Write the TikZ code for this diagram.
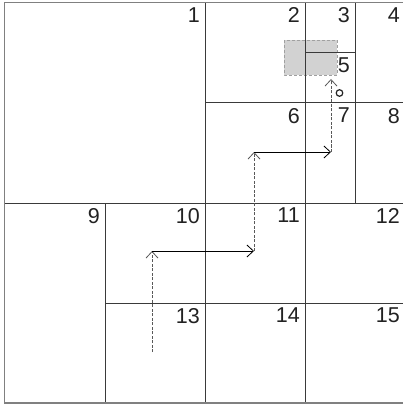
\documentclass[tikz,border=0pt]{standalone}
\usepackage{fontspec}
\setmainfont{Liberation Sans}
\usetikzlibrary{arrows.meta}
\definecolor{gridc}{HTML}{3A3A3A}
\definecolor{borderc}{HTML}{808080}
\definecolor{boxfill}{HTML}{D2D2D2}
\definecolor{boxline}{HTML}{A0A0A0}
\definecolor{labc}{HTML}{222222}
\begin{document}
\begin{tikzpicture}[x=1pt,y=-1pt,
  gridline/.style={draw=gridc,line width=1pt},
  borderline/.style={draw=borderc,line width=1.6pt},
  lab/.style={anchor=north east,inner sep=0pt,text=labc,font=\fontsize{21.5}{21.5}\selectfont},
  tipstyle/.style={-{Straight Barb[length=6.5pt,width=12pt,line width=0.8pt]}},
  upmove/.style={tipstyle,draw=black!65,line width=1pt,dash pattern=on 3pt off 1.5pt},
  rightmove/.style={tipstyle,draw=black,line width=1pt},
  hilite/.style={fill=boxfill,draw=boxline,line width=0.9pt,dash pattern=on 3pt off 2pt}
]
\useasboundingbox (0,0) rectangle (402,406);
% highlighted region
\path[hilite] (284,40) rectangle (337,75);
% grid
\draw[gridline] (205,2.5) -- (205,403);
\draw[gridline] (305,2.5) -- (305,403);
\draw[gridline] (355,2.5) -- (355,203);
\draw[gridline] (105,203) -- (105,403);
\draw[gridline] (4.5,203) -- (405,203);
\draw[gridline] (205,103) -- (405,103);
\draw[gridline] (105,303) -- (405,303);
\draw[gridline] (305,52.5) -- (355,52.5);
% border
\draw[borderline] (405,2.5) -- (4.5,2.5) -- (4.5,403) -- (405,403);
% labels
\node[lab] (l1) at (200,7.5) {1};
\node[lab] (l2) at (300,7.5) {2};
\node[lab] (l3) at (350,7.5) {3};
\node[lab] (l4) at (400,7.5) {4};
\node[lab] (l5) at (350,57.5) {5};
\node[lab] (l6) at (300,108) {6};
\node[lab] (l7) at (350,108) {7};
\node[lab] (l8) at (400,108) {8};
\node[lab] (l9) at (100,208) {9};
\node[lab] (l10) at (200,208) {10};
\node[lab] (l11) at (300,208) {11};
\node[lab] (l12) at (400,208) {12};
\node[lab] (l13) at (200,308) {13};
\node[lab] (l14) at (300,308) {14};
\node[lab] (l15) at (400,308) {15};
% small circle
\draw[draw=labc,line width=1.2pt] (339.5,93) circle (3.3);
% path
\coordinate (p0) at (152,352);
\coordinate (p1) at (152,251);
\coordinate (p2) at (254,251);
\coordinate (p3) at (254,152);
\coordinate (p4) at (331,152);
\coordinate (p5) at (331,79);
\draw[upmove] (p0) -- (p1);
\draw[rightmove] (p1) -- (p2);
\draw[upmove] (p2) -- (p3);
\draw[rightmove] (p3) -- (p4);
\draw[upmove] (p4) -- (p5);
\end{tikzpicture}
\end{document}
